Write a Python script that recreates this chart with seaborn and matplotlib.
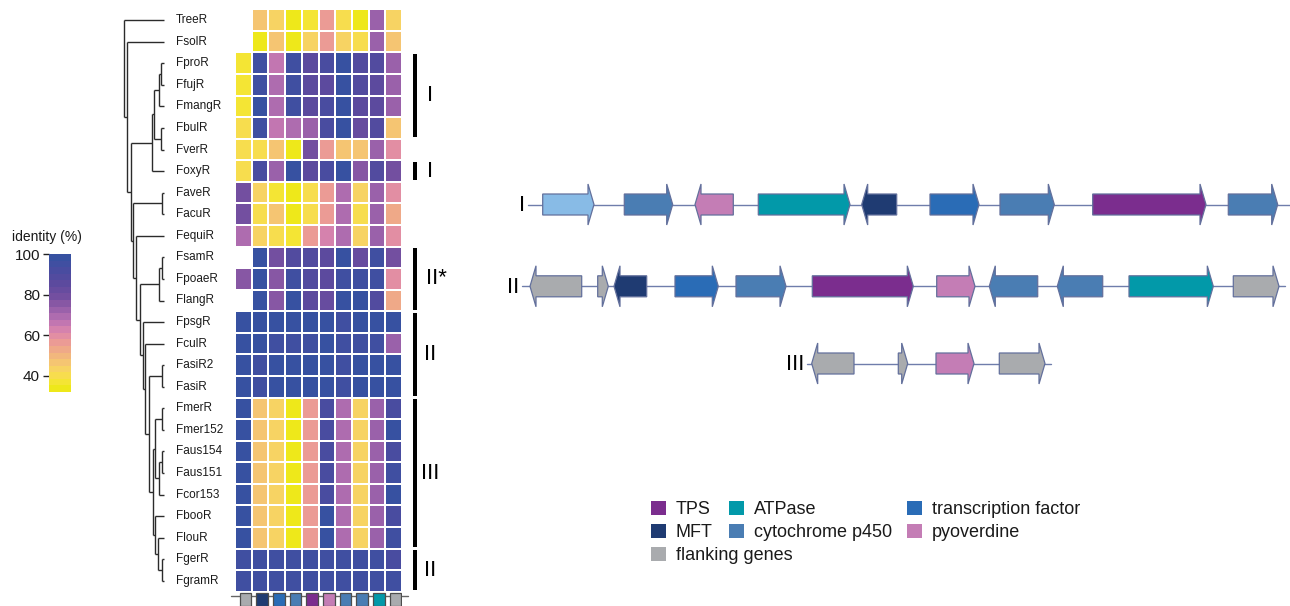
import numpy as np
import pandas as pd
import matplotlib
matplotlib.use("Agg")
import matplotlib.pyplot as plt
import seaborn as sns
from matplotlib.colors import LinearSegmentedColormap, ListedColormap
from matplotlib.patches import Polygon, Rectangle, Patch

sns.set_theme(style="white")
plt.rcParams['font.family'] = ['Liberation Sans', 'DejaVu Sans']

# ---------------------------------------------------------------- data
strains = ['TreeR', 'FsolR', 'FproR', 'FfujR', 'FmangR', 'FbulR', 'FverR',
           'FoxyR', 'FaveR', 'FacuR', 'FequiR', 'FsamR', 'FpoaeR', 'FlangR',
           'FpsgR', 'FculR', 'FasiR2', 'FasiR', 'FmerR', 'Fmer152', 'Faus154',
           'Faus151', 'Fcor153', 'FbooR', 'FlouR', 'FgerR', 'FgramR']

# gene class of each heatmap column (order along the reference cluster)
column_genes = ['flanking genes', 'MFT', 'transcription factor', 'cytochrome p450',
                'TPS', 'pyoverdine', 'cytochrome p450', 'cytochrome p450',
                'ATPase', 'flanking genes']

nan = np.nan
# percent identity of each gene to the reference cluster, one list per strain
treeR   = [nan, 45, 42, 33, 37, 57, 41, 35, 72, 44]
fsolR   = [nan, 34, 48, 33, 43, 55, 42, 41, 72, 45]
fproR   = [37, 96, 67, 96, 85, 91, 99, 88, 88, 71]
ffujR   = [37, 95, 68, 96, 85, 84, 99, 88, 87, 71]
fmangR  = [37, 97, 68, 96, 85, 91, 99, 87, 87, 71]
fbulR   = [40, 96, 66, 70, 71, 91, 99, 83, 88, 48]
fverR   = [40, 40, 45, 35, 80, 55, 47, 47, 72, 58]
foxyR   = [41, 93, 72, 97, 85, 93, 99, 75, 90, 78]
faveR   = [79, 44, 37, 35, 40, 57, 68, 44, 72, 59]
facuR   = [79, 40, 45, 34, 41, 57, 68, 41, 72, 53]
fequiR  = [69, 44, 41, 36, 55, 64, 69, 44, 72, 59]
fsamR   = [nan, 98, 80, 90, 89, 85, 97, 83, 95, 80]
fpoaeR  = [76, 98, 77, 94, 90, 85, 96, 96, 95, 58]
flangR  = [nan, 97, 76, 98, 84, 82, 97, 97, 88, 54]
fpsgR   = [97, 97, 97, 97, 98, 97, 96, 97, 97, 98]
fculR   = [97, 97, 96, 96, 96, 97, 96, 96, 96, 74]
fasiR2  = [97, 96, 97, 97, 98, 97, 96, 97, 97, 97]
fasiR   = [97, 96, 97, 97, 98, 97, 96, 97, 97, 97]
fmerR   = [97, 45, 42, 34, 55, 91, 69, 42, 71, 92]
fmer152 = [97, 45, 42, 34, 55, 91, 69, 42, 71, 97]
faus154 = [97, 45, 42, 34, 55, 91, 69, 42, 71, 92]
faus151 = [97, 45, 42, 34, 55, 91, 69, 42, 71, 94]
fcor153 = [97, 45, 42, 34, 55, 91, 69, 42, 71, 97]
fbooR   = [97, 45, 42, 34, 55, 98, 69, 42, 71, 91]
flouR   = [97, 45, 42, 34, 55, 98, 69, 42, 71, 95]
fgerR   = [96, 96, 96, 96, 96, 96, 96, 96, 96, 91]
fgramR  = [96, 96, 96, 96, 96, 96, 96, 96, 96, 96]

# strain tree, nodes written as (branch height, left, right)
clade_I = (0.12,
           (0.10, (0.053, (0.025, 'FproR', 'FfujR'), 'FmangR'),
            (0.025, 'FbulR', 'FverR')),
           'FoxyR')
clade_III = (0.11,
             (0.09, (0.023, 'FmerR', 'Fmer152'),
              (0.05, (0.023, 'Faus154', 'Faus151'), 'Fcor153')),
             (0.09, 'FbooR', (0.06, 'FlouR', (0.023, 'FgerR', 'FgramR'))))
clade_II = (0.24,
            (0.05, (0.023, 'FsamR', 'FpoaeR'), 'FlangR'),
            (0.21, 'FpsgR',
             (0.19, 'FculR',
              (0.15, (0.02, 'FasiR2', 'FasiR'), clade_III))))
clade_B = (0.31, (0.023, 'FaveR', 'FacuR'), (0.28, 'FequiR', clade_II))
tree = (0.40, 'TreeR', (0.37, 'FsolR', (0.33, clade_I, clade_B)))

# cluster types
group_first = ['FproR', 'FoxyR', 'FsamR', 'FpsgR', 'FmerR', 'FgerR']
group_last  = ['FbulR', 'FoxyR', 'FlangR', 'FasiR', 'FlouR', 'FgramR']
group_names = ['I', 'I', 'II*', 'II', 'III', 'II']

gene_colors = {
    'TPS': '#7b2d8e',
    'MFT': '#1f3b72',
    'flanking genes': '#a9abae',
    'ATPase': '#0299a9',
    'cytochrome p450': '#4a7db3',
    'transcription factor': '#2a6cb6',
    'pyoverdine': '#c47db5',
    'other': '#88bbe6',
}

# gene maps of the three cluster types (kb): start, end, strand, class
cluster_I = [
    (4.27, 9.40, 1, 'other'),
    (12.43, 17.27, 1, 'cytochrome p450'),
    (19.50, 23.33, -1, 'pyoverdine'),
    (25.83, 35.00, 1, 'ATPase'),
    (36.17, 39.67, -1, 'MFT'),
    (43.00, 47.90, 1, 'transcription factor'),
    (50.00, 55.43, 1, 'cytochrome p450'),
    (59.27, 70.60, 1, 'TPS'),
    (72.83, 77.77, 1, 'cytochrome p450'),
]
cluster_II = [
    (3.00, 8.17, -1, 'flanking genes'),
    (9.77, 10.83, 1, 'flanking genes'),
    (11.40, 14.67, -1, 'MFT'),
    (17.50, 21.83, 1, 'transcription factor'),
    (23.60, 28.60, 1, 'cytochrome p450'),
    (31.23, 41.33, 1, 'TPS'),
    (43.67, 47.50, 1, 'pyoverdine'),
    (48.93, 53.77, -1, 'cytochrome p450'),
    (55.73, 60.27, -1, 'cytochrome p450'),
    (62.90, 71.33, 1, 'ATPase'),
    (73.33, 77.90, 1, 'flanking genes'),
]
cluster_III = [
    (31.17, 35.40, -1, 'flanking genes'),
    (39.83, 40.77, 1, 'flanking genes'),
    (43.60, 47.40, 1, 'pyoverdine'),
    (49.93, 54.50, 1, 'flanking genes'),
]
cluster_extent = [(2.8, 79.0), (2.2, 78.5), (30.67, 55.07)]
cluster_labels = ['I', 'II', 'III']

legend_columns = [['TPS', 'MFT', 'flanking genes'],
                  ['ATPase', 'cytochrome p450'],
                  ['transcription factor', 'pyoverdine']]

# ---------------------------------------------------------------- layout
W, H = 1290, 606
fig = plt.figure(figsize=(W / 100, H / 100), dpi=100)


def rect(x0, y0, x1, y1):
    """figure-pixel box (top-left origin) -> axes rect"""
    return [x0 / W, 1 - y1 / H, (x1 - x0) / W, (y1 - y0) / H]


HM_TOP, HM_BOT = 9.3, 591.7
HM_L, HM_R = 235, 402

ax_hm = fig.add_axes(rect(HM_L, HM_TOP, HM_R, HM_BOT))
cax = fig.add_axes(rect(49, 254, 71, 392))

stops = [(32, '#eee81a'), (36, '#f6e43a'), (40, '#f8da58'), (44, '#f7cc6c'),
         (48, '#f3bb7a'), (53, '#eea68a'), (57, '#e9969a'), (61, '#dd88aa'),
         (65, '#c97ab2'), (70, '#aa6aae'), (75, '#8e5aa6'), (80, '#724ea0'),
         (87, '#5a4a9e'), (93, '#4a4ca0'), (100, '#3751a1')]
vmin, vmax = 32, 100
smooth = LinearSegmentedColormap.from_list(
    'identity', [((v - vmin) / (vmax - vmin), c) for v, c in stops])
cmap = ListedColormap(smooth(np.linspace(0, 1, 21)))

identity = pd.DataFrame(
    [treeR, fsolR, fproR, ffujR, fmangR, fbulR, fverR, foxyR, faveR, facuR,
     fequiR, fsamR, fpoaeR, flangR, fpsgR, fculR, fasiR2, fasiR, fmerR,
     fmer152, faus154, faus151, fcor153, fbooR, flouR, fgerR, fgramR],
    index=strains, columns=[f'g{i}' for i in range(len(column_genes))])

sns.heatmap(identity, ax=ax_hm, cmap=cmap, vmin=vmin, vmax=vmax,
            linewidths=1.3, linecolor='white', cbar_ax=cax,
            xticklabels=False, yticklabels=True)
ax_hm.set_xlabel('')
ax_hm.set_ylabel('')
ax_hm.tick_params(axis='y', length=0, pad=42.5, labelsize=8.5, labelcolor='#1a1a1a')
for lbl in ax_hm.get_yticklabels():
    lbl.set_horizontalalignment('left')
    lbl.set_rotation(0)

cbar = ax_hm.collections[0].colorbar
cbar.set_ticks([40, 60, 80, 100])
cbar.outline.set_visible(False)
cax.yaxis.set_ticks_position('left')
cax.tick_params(axis='y', left=True, right=False, labelleft=True, labelright=False,
                length=4.5, width=1, pad=2, labelsize=11, color='#222',
                labelcolor='#1a1a1a')
fig.text(12 / W, 1 - 237 / H, 'identity (%)', fontsize=10, va='center',
         ha='left', color='#1a1a1a')

# ---------------------------------------------------------------- tree
ax_tr = fig.add_axes(rect(118, HM_TOP, 166, HM_BOT))
ax_tr.set_xlim(0.46, -0.02)
ax_tr.set_ylim(len(strains), 0)
ax_tr.axis('off')
tree_kw = dict(color='#2b2b2b', lw=1.0, solid_capstyle='butt')


def draw_node(node):
    if isinstance(node, str):
        return strains.index(node) + 0.5, 0.0
    h, left, right = node
    yl, hl = draw_node(left)
    yr, hr = draw_node(right)
    ax_tr.plot([hl, h], [yl, yl], **tree_kw)
    ax_tr.plot([hr, h], [yr, yr], **tree_kw)
    ax_tr.plot([h, h], [yl, yr], **tree_kw)
    return (yl + yr) / 2, h


draw_node(tree)

# ---------------------------------------------------------------- gene row under heatmap
ax_gr = fig.add_axes(rect(HM_L, HM_BOT, HM_R, HM_BOT + 24))
ax_gr.set_xlim(0, len(column_genes))
ax_gr.set_ylim(24, 0)
ax_gr.axis('off')
ax_gr.plot([-0.25, len(column_genes) + 0.35], [4.0, 4.0], color='#666666',
           lw=1.0, clip_on=False, zorder=1)
for i, g in enumerate(column_genes):
    ax_gr.add_patch(Rectangle((i + 0.27, 1.6), 0.7, 13, facecolor=gene_colors[g],
                              edgecolor='#4d4d4d', lw=0.9, zorder=2))

# ---------------------------------------------------------------- cluster-type bars
ax_grp = fig.add_axes(rect(405, HM_TOP, 470, HM_BOT))
ax_grp.set_xlim(0, 65)
ax_grp.set_ylim(len(strains), 0)
ax_grp.axis('off')
for first, last, name in zip(group_first, group_last, group_names):
    r0 = strains.index(first)
    r1 = strains.index(last) + 1
    ax_grp.add_patch(Rectangle((8, r0 + 0.07), 4, (r1 - r0) - 0.14,
                               facecolor='black', edgecolor='none'))
    if name.endswith('*'):
        ax_grp.text(21.5, (r0 + r1) / 2, name, ha='left', va='center',
                    fontsize=16, color='black')
    else:
        ax_grp.text(25.5, (r0 + r1) / 2, name, ha='center', va='center',
                    fontsize=16, color='black')

# ---------------------------------------------------------------- gene clusters
ax_gc = fig.add_axes(rect(500, 150, 1290, 400))
ax_gc.set_xlim(0, 79)
ax_gc.set_ylim(400, 150)
ax_gc.axis('off')

track_y = [204.5, 286.3, 363.5]
body_h, head_h, head_len = 10.5, 20.5, 0.6
edge = '#63709c'


def gene_arrow(ax, start, end, strand, y, color):
    if strand > 0:
        s, e, hl = start, end, head_len
    else:
        s, e, hl = end, start, -head_len
    pts = [(s, y - body_h), (e - hl, y - body_h), (e - hl, y - head_h), (e, y),
           (e - hl, y + head_h), (e - hl, y + body_h), (s, y + body_h)]
    ax.add_patch(Polygon(pts, closed=True, facecolor=color, edgecolor=edge,
                         lw=0.9, zorder=3, joinstyle='miter'))


for genes, (x0, x1), label, y in zip([cluster_I, cluster_II, cluster_III],
                                     cluster_extent, cluster_labels, track_y):
    ax_gc.plot([x0, x1], [y, y], color='#6f7dab', lw=1.0, zorder=1)
    ax_gc.text(x0 - 0.25, y + 1, label, ha='right', va='center', fontsize=16,
               color='black')
    for start, end, strand, cls in genes:
        gene_arrow(ax_gc, start, end, strand, y, gene_colors[cls])

# ---------------------------------------------------------------- legend
legend_anchor_x = [651, 729, 907]
for col, x in zip(legend_columns, legend_anchor_x):
    handles = [Patch(facecolor=gene_colors[g], edgecolor='none') for g in col]
    leg = fig.legend(handles, col, loc='upper left',
                     bbox_to_anchor=(x / W, 1 - 500.5 / H),
                     frameon=False, fontsize=13, handlelength=0.83,
                     handleheight=0.83, handletextpad=0.55, labelspacing=0.33,
                     borderpad=0, borderaxespad=0)
    for t in leg.get_texts():
        t.set_color('#1a1a1a')

fig.savefig('out.png', dpi=100, facecolor='white')
